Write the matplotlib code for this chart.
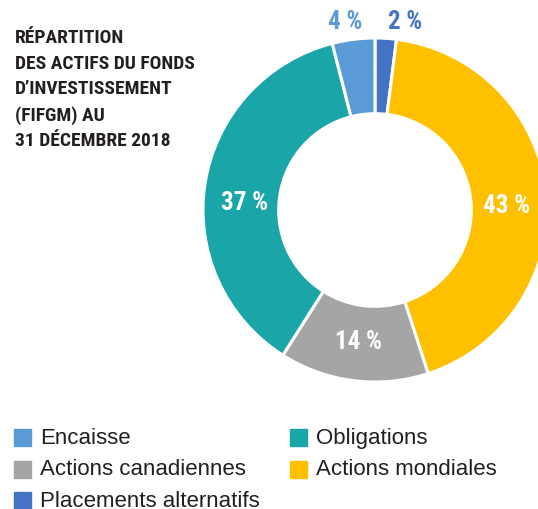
import numpy as np
import matplotlib.pyplot as plt
from matplotlib.patches import Rectangle

# données (ordre horaire depuis midi)
categories = ['Placements alternatifs', 'Actions mondiales', 'Actions canadiennes',
              'Obligations', 'Encaisse']
valeurs = [2, 43, 14, 37, 4]
couleurs = ['#4472C4', '#FFC000', '#A5A5A5', '#1AA6A9', '#5B9BD5']
etiquettes = ['2 %', '43 %', '14 %', '37 %', '4 %']

# ordre de la légende
legende = ['Encaisse', 'Obligations', 'Actions canadiennes', 'Actions mondiales',
           'Placements alternatifs']

titre = "RÉPARTITION\nDES ACTIFS DU FONDS\nD’INVESTISSEMENT\n(FIFGM) AU\n31 DÉCEMBRE 2018"

etroit = ['Roboto Condensed', 'DejaVu Sans']

W, H = 538, 510
fig = plt.figure(figsize=(W / 100, H / 100), dpi=100)

# donut : centre (375, 211) px, rayon 172 px
cx, cy, R = 375, 211, 172
ax = fig.add_axes([(cx - R) / W, (H - cy - R) / H, 2 * R / W, 2 * R / H])
wedges, _ = ax.pie(valeurs, colors=couleurs, startangle=90, counterclock=False,
                   wedgeprops=dict(width=0.44, edgecolor='white', linewidth=2.2))
ax.set_xlim(-1, 1)
ax.set_ylim(-1, 1)
ax.axis('off')

cumul = np.cumsum([0] + valeurs)
for i, (v, lab) in enumerate(zip(valeurs, etiquettes)):
    ang = np.deg2rad(90 - 3.6 * (cumul[i] + v / 2))
    if v < 10:
        # petites tranches : étiquette au-dessus de l'anneau
        x = 0.175 * np.sign(np.cos(ang))
        ax.text(x, 1.10, lab, ha='center', va='center', color=couleurs[i],
                fontsize=18, fontweight='bold', family=etroit, clip_on=False)
    else:
        r = 0.77
        y = r * np.sin(ang)
        if abs(np.cos(ang)) > 0.7:
            y *= 0.4
        ax.text(r * np.cos(ang), y, lab, ha='center', va='center',
                color='white', fontsize=18, fontweight='bold', family=etroit)

fig.text(15 / W, 1 - 29 / H, titre, ha='left', va='top', fontsize=14,
         fontweight='bold', family=etroit, color='#231F20', linespacing=1.54)

# légende manuelle
couleur_de = dict(zip(categories, couleurs))
for k, nom in enumerate(legende):
    col, row = k % 2, k // 2
    x0 = 14 if col == 0 else 290
    yc = 438.5 + row * 31.5
    fig.add_artist(Rectangle((x0 / W, 1 - (yc + 8.5) / H), 17 / W, 17 / H,
                             transform=fig.transFigure, color=couleur_de[nom]))
    fig.text((x0 + 26) / W, 1 - yc / H, nom, ha='left', va='center',
             fontsize=16, color='#231F20', family='Liberation Sans')

fig.savefig('out.png', dpi=100)
